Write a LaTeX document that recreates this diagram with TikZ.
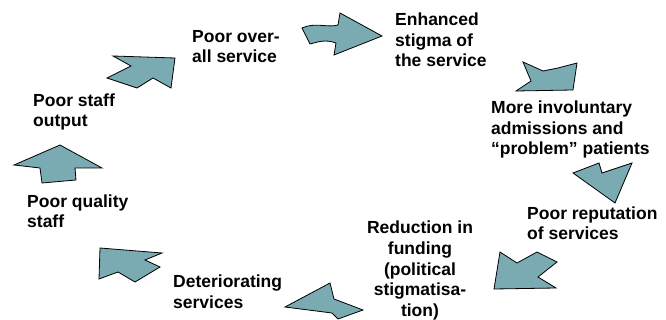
\documentclass[tikz,border=0pt]{standalone}
\usepackage{fontspec}
\setmainfont{Liberation Sans}
\usepackage{tikz}
\usetikzlibrary{positioning}

\definecolor{ArrowTeal}{RGB}{122,170,178}

\begin{document}
\begin{tikzpicture}[x=1pt, y=-1pt]
\tikzstyle{fatarrow}=[draw=black, line width=0.8pt, line join=miter, fill=ArrowTeal]
\tikzstyle{label}=[inner sep=0pt, anchor=base west, align=left,
font=\fontsize{17.5}{20.5}\selectfont\bfseries]

\useasboundingbox (0,0) rectangle (666,320);

% labels (placed by the baseline of their last line)
\node (overall) [label] at (192,63) {Poor over-\\all service};
\node (stigma) [label] at (395,67) {Enhanced\\stigma of\\the service};
\node (admit) [label] at (491,155) {More involuntary\\admissions and\\``problem'' patients};
\node (reput) [label] at (527,240) {Poor reputation\\of services};
\node (funding) [label, anchor=base, align=center] at (420,316) {Reduction in\\funding\\(political\\stigmatisa-\\tion)};
\node (deter) [label] at (173,308) {Deteriorating\\services};
\node (quality) [label] at (27,228) {Poor quality\\staff};
\node (output) [label] at (33,127) {Poor staff\\output};

% arrows
\draw[fatarrow] (113,56) -- (175,58) -- (171,88) -- (153,78) -- (137,88) -- (107,78) -- (131,66) -- cycle;
\draw[fatarrow] (302,28) .. controls (315,22) and (328,28) .. (338,25) -- (340,13) -- (382,36)
  -- (334,55) -- (336,43) .. controls (325,39) and (318,42) .. (310,44) -- cycle;
\draw[fatarrow] (516,91) -- (531,81) -- (523,62) -- (543,71) -- (558,68) -- (577,63) -- (573,90) -- cycle;
\draw[fatarrow] (573,173) -- (599,163) -- (602,173) -- (632,163) -- (615,203) -- cycle;
\draw[fatarrow] (500,252) -- (517,263) -- (537,252) -- (557,262) -- (538,277) -- (556,288) -- (494,289) -- cycle;
\draw[fatarrow] (285,307) -- (330,283) -- (334,299) -- (363,310) -- (338,319) -- (332,313) -- cycle;
\draw[fatarrow] (100,248) -- (162,253) -- (145,260) -- (160,267) -- (135,282) -- (118,272) -- (99,279) -- cycle;
\draw[fatarrow] (60,145) -- (102,168) -- (75,168) -- (76,180) -- (42,183) -- (40,168) -- (14,165) -- cycle;

\end{tikzpicture}
\end{document}
